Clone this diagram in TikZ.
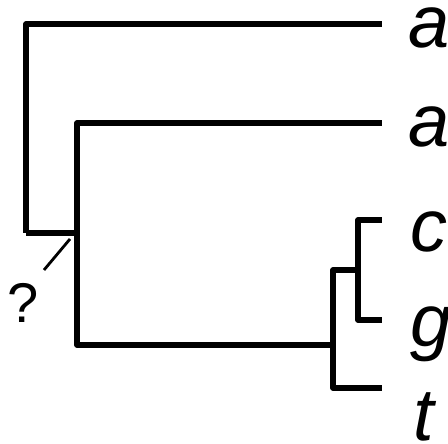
\documentclass[tikz,border=0pt]{standalone}
\usepackage{fontspec}
\setmainfont{Liberation Sans}
\begin{document}
\begin{tikzpicture}[x=1pt,y=1pt,
  branch/.style={line width=5.6pt,line join=round,line cap=butt},
  leaf/.style={anchor=base west,inner sep=0pt,font=\fontsize{74}{74}\selectfont\itshape},
  qmark/.style={anchor=base,inner sep=0pt,font=\fontsize{56}{56}\selectfont}]
\useasboundingbox (0,0) rectangle (448,444);
% tree vertices (y measured from top: y = 444 - ypx)
\coordinate (root) at (26,211);
\coordinate (n1) at (77,211);
\coordinate (n2) at (333,99);
\coordinate (n3) at (358,174);
\coordinate (la1) at (382,420);
\coordinate (la2) at (382,321);
\coordinate (lc) at (382,224);
\coordinate (lg) at (382,124);
\coordinate (lt) at (382,56);
\draw[branch] (root) |- (la1);
\draw[branch] (root) -- (n1);
\draw[branch] (n1) |- (la2);
\draw[branch] (n1) |- (n2);
\draw[branch] (n2) |- (n3);
\draw[branch] (n2) |- (lt);
\draw[branch] (n3) |- (lc);
\draw[branch] (n3) |- (lg);
% labels
\node[leaf] (ta1) at (408,396) {a};
\node[leaf] (ta2) at (408,297) {a};
\node[leaf] (tc) at (410,192) {c};
\node[leaf] (tg) at (410,97) {g};
\node[leaf] (tt) at (413,3) {t};
% question mark
\coordinate (s1) at (70,205);
\coordinate (s2) at (44,174);
\draw[line width=2.8pt] (s1) -- (s2);
\node[qmark] (q) at (23,121) {?};
\end{tikzpicture}
\end{document}
